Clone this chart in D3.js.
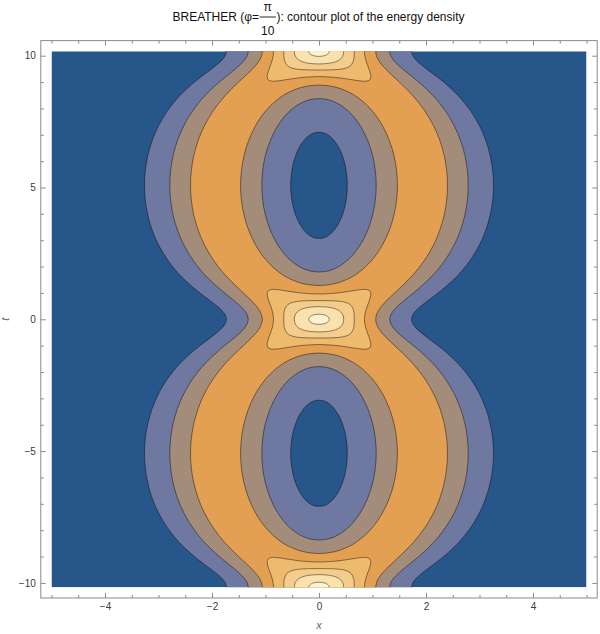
<!DOCTYPE html>
<html><head><meta charset="utf-8">
<script src="https://cdn.jsdelivr.net/npm/d3@7"></script>
<style>body{margin:0;background:#fff} svg{display:block}</style>
</head><body>
<svg id="chart" width="600" height="634"></svg>
<script>
// ---------------- data ----------------
const period = 10.166;               // t-period of the energy density (peaks at t = 0, ±period)
const xRange = [-5, 5];
const tRange = [-10.166, 10.166];
const contourLevels = [1, 2, 3, 4, 5, 6, 7];
const bandColors = ["#27568b", "#6e78a0", "#a38c7a", "#e3a053", "#edba6e", "#f4cd8c", "#f9e2ae", "#fdf3d0"];
const xTicks = [-4, -2, 0, 2, 4];
const tTicks = [-10, -5, 0, 5, 10];
const xMinorTicks = [-5,-4.5,-3.5,-3,-2.5,-1.5,-1,-0.5,0.5,1,1.5,2.5,3,3.5,4.5,5];
const tMinorTicks = [-9,-8,-7,-6,-4,-3,-2,-1,1,2,3,4,6,7,8,9];

// outer (x >= 0) branches of levels 1..3, given as [t, x] for 0 <= t <= period/2
const outerL1 = [[0,1.731],[0.169,1.754],[0.339,1.817],[0.508,1.909],[0.678,2.016],[0.847,2.128],[1.130,2.307],[1.412,2.467],[1.694,2.608],[1.977,2.729],[2.259,2.833],[2.542,2.923],[2.824,3.000],[3.106,3.065],[3.389,3.119],[3.671,3.164],[3.954,3.199],[4.236,3.227],[4.518,3.246],[4.801,3.258],[5.083,3.261]];
const outerL2 = [[0,1.323],[0.169,1.342],[0.339,1.395],[0.508,1.474],[0.678,1.569],[0.847,1.672],[1.130,1.843],[1.412,1.999],[1.694,2.137],[1.977,2.258],[2.259,2.361],[2.542,2.451],[2.824,2.527],[3.106,2.592],[3.389,2.646],[3.671,2.691],[3.954,2.727],[4.236,2.754],[4.518,2.773],[4.801,2.785],[5.083,2.788]];
const outerL3 = [[0,1.060],[0.169,1.074],[0.339,1.112],[0.508,1.172],[0.678,1.248],[0.847,1.334],[1.130,1.483],[1.412,1.628],[1.694,1.760],[1.977,1.876],[2.259,1.978],[2.542,2.066],[2.824,2.142],[3.106,2.206],[3.389,2.260],[3.671,2.304],[3.954,2.340],[4.236,2.367],[4.518,2.386],[4.801,2.398],[5.083,2.401]];

// rings around the low-energy ovals (centre t = period/2), given as [x, t]
const ovalL3 = [[0,1.283],[0.143,1.299],[0.300,1.356],[0.397,1.412],[0.564,1.553],[0.684,1.694],[0.862,1.977],[0.995,2.259],[1.101,2.542],[1.187,2.824],[1.258,3.106],[1.316,3.389],[1.364,3.671],[1.401,3.954],[1.430,4.236],[1.450,4.518],[1.462,4.801],[1.466,5.083]];
const ovalL2 = [[0,1.795],[0.173,1.836],[0.350,1.977],[0.544,2.259],[0.673,2.542],[0.771,2.824],[0.849,3.106],[0.912,3.389],[0.962,3.671],[1.002,3.954],[1.032,4.236],[1.052,4.518],[1.065,4.801],[1.069,5.083]];
const ovalL1 = [[0,3.070],[0.107,3.106],[0.201,3.219],[0.285,3.389],[0.375,3.671],[0.436,3.954],[0.479,4.236],[0.507,4.518],[0.524,4.801],[0.529,5.083]];

// closed contours around the peaks (centre t = 0), given as [x, t]
const peakL4 = [[0.850,0],[0.857,0.169],[0.876,0.339],[0.904,0.508],[0.935,0.678],[0.961,0.847],[0.969,0.960],[0.966,1.017],[0.951,1.073],[0.934,1.101],[0.891,1.130],[0.850,1.135],[0.798,1.130],[0.690,1.101],[0.603,1.073],[0.415,1.017],[0.292,0.988],[0,0.959]];
const peakL5 = [[0.659,0],[0.657,0.169],[0.646,0.339],[0.606,0.508],[0.553,0.593],[0.503,0.635],[0.448,0.664],[0.405,0.678],[0.338,0.692],[0.173,0.706],[0,0.710]];
const peakL6 = [[0.462,0],[0.445,0.169],[0.405,0.282],[0.369,0.339],[0.311,0.395],[0.266,0.424],[0.197,0.452],[0.140,0.466],[0,0.479]];
const peakL7 = [[0.192,0],[0.184,0.057],[0.158,0.113],[0.134,0.141],[0.095,0.169],[0,0.193]];

const titleBefore = "BREATHER (\u03C6=";
const titleNum = "\u03C0";
const titleDen = "10";
const titleAfter = "): contour plot of the energy density";

// ---------------- drawing ----------------
const frame = {left: 40.8, right: 597.2, top: 40.6, bottom: 598};
const padX = 0.02 * (xRange[1] - xRange[0]);
const padT = 0.02 * (tRange[1] - tRange[0]);
const xs = d3.scaleLinear().domain([xRange[0] - padX, xRange[1] + padX]).range([frame.left, frame.right]);
const ys = d3.scaleLinear().domain([tRange[0] - padT, tRange[1] + padT]).range([frame.bottom, frame.top]);
const half = period / 2;

const svg = d3.select("#chart");
svg.append("defs").append("clipPath").attr("id", "plotclip")
  .append("rect")
  .attr("x", xs(xRange[0])).attr("y", ys(tRange[1]))
  .attr("width", xs(xRange[1]) - xs(xRange[0]))
  .attr("height", ys(tRange[0]) - ys(tRange[1]));

const plot = svg.append("g").attr("clip-path", "url(#plotclip)");
const lineClosed = d3.line().x(d => xs(d[0])).y(d => ys(d[1])).curve(d3.curveCatmullRomClosed.alpha(0.5));
const strokeCol = "rgba(0,0,0,0.55)";
const strokeW = 0.8;

plot.append("rect")
  .attr("x", xs(xRange[0])).attr("y", ys(tRange[1]))
  .attr("width", xs(xRange[1]) - xs(xRange[0]))
  .attr("height", ys(tRange[0]) - ys(tRange[1]))
  .attr("fill", bandColors[0]);

function unfoldOuter(pts) {
  const one = pts.map(p => [p[0], p[1]]);
  for (let i = pts.length - 2; i >= 0; i--) one.push([period - pts[i][0], pts[i][1]]);
  const all = [];
  for (let k = -2; k <= 1; k++) {
    one.forEach((p, i) => { if (k > -2 && i === 0) return; all.push([p[0] + k * period, p[1]]); });
  }
  const kept = all.filter(p => p[0] >= -1.3 * period && p[0] <= 1.3 * period);
  const right = kept.map(p => [p[1], p[0]]);
  const left = kept.slice().reverse().map(p => [-p[1], p[0]]);
  return right.concat(left);
}

function loop(pts, tc) {
  const q1 = pts.map(p => [p[0], tc + p[1]]);
  const q2 = pts.slice(0, -1).reverse().map(p => [-p[0], tc + p[1]]);
  const q3 = pts.slice(1).map(p => [-p[0], tc - p[1]]);
  const q4 = pts.slice(1, -1).reverse().map(p => [p[0], tc - p[1]]);
  return q1.concat(q2, q3, q4);
}

function draw(poly, color) {
  plot.append("path").attr("d", lineClosed(poly))
    .attr("fill", color).attr("stroke", strokeCol).attr("stroke-width", strokeW)
    .attr("stroke-linejoin", "round");
}

draw(unfoldOuter(outerL1), bandColors[1]);
draw(unfoldOuter(outerL2), bandColors[2]);
draw(unfoldOuter(outerL3), bandColors[3]);

const ovalCentres = [-half, half];
const toOval = arr => arr.map(p => [p[0], half - p[1]]).reverse();
ovalCentres.forEach(tc => {
  draw(loop(toOval(ovalL3), tc), bandColors[2]);
  draw(loop(toOval(ovalL2), tc), bandColors[1]);
  draw(loop(toOval(ovalL1), tc), bandColors[0]);
});

const peakCentres = [-period, 0, period];
peakCentres.forEach(tc => {
  draw(loop(peakL4, tc), bandColors[4]);
  draw(loop(peakL5, tc), bandColors[5]);
  draw(loop(peakL6, tc), bandColors[6]);
  draw(loop(peakL7, tc), bandColors[7]);
});

// ---------------- frame & ticks ----------------
const frameCol = "#8a8a8a";
const labelCol = "#3a3a3a";
const fontFam = "'Liberation Sans', Arial, sans-serif";
const fmt = d => (d < 0 ? "\u2212" : "") + Math.abs(d);

function styleAxis(g) {
  g.select(".domain").remove();
  g.selectAll(".tick line").attr("stroke", frameCol).attr("stroke-width", 1);
  g.selectAll(".tick text").attr("fill", labelCol).attr("font-family", fontFam).attr("font-size", 10);
}
svg.append("g").attr("transform", `translate(0,${frame.bottom})`)
  .call(d3.axisBottom(xs).tickValues(xTicks).tickSizeInner(-5).tickSizeOuter(0).tickPadding(5).tickFormat(fmt)).call(styleAxis);
svg.append("g").attr("transform", `translate(0,${frame.bottom})`)
  .call(d3.axisBottom(xs).tickValues(xMinorTicks).tickSizeInner(-3).tickSizeOuter(0).tickFormat("")).call(styleAxis);
svg.append("g").attr("transform", `translate(0,${frame.top})`)
  .call(d3.axisTop(xs).tickValues(xTicks).tickSizeInner(-5).tickSizeOuter(0).tickFormat("")).call(styleAxis);
svg.append("g").attr("transform", `translate(0,${frame.top})`)
  .call(d3.axisTop(xs).tickValues(xMinorTicks).tickSizeInner(-3).tickSizeOuter(0).tickFormat("")).call(styleAxis);
svg.append("g").attr("transform", `translate(${frame.left},0)`)
  .call(d3.axisLeft(ys).tickValues(tTicks).tickSizeInner(-5).tickSizeOuter(0).tickPadding(5).tickFormat(fmt)).call(styleAxis);
svg.append("g").attr("transform", `translate(${frame.left},0)`)
  .call(d3.axisLeft(ys).tickValues(tMinorTicks).tickSizeInner(-3).tickSizeOuter(0).tickFormat("")).call(styleAxis);
svg.append("g").attr("transform", `translate(${frame.right},0)`)
  .call(d3.axisRight(ys).tickValues(tTicks).tickSizeInner(-5).tickSizeOuter(0).tickFormat("")).call(styleAxis);
svg.append("g").attr("transform", `translate(${frame.right},0)`)
  .call(d3.axisRight(ys).tickValues(tMinorTicks).tickSizeInner(-3).tickSizeOuter(0).tickFormat("")).call(styleAxis);

svg.append("rect").attr("x", frame.left).attr("y", frame.top)
  .attr("width", frame.right - frame.left).attr("height", frame.bottom - frame.top)
  .attr("fill", "none").attr("stroke", frameCol).attr("stroke-width", 1);

svg.append("text").attr("x", xs(0)).attr("y", 629).attr("text-anchor", "middle")
  .attr("font-family", fontFam).attr("font-size", 11).attr("font-style", "italic").attr("fill", "#666").text("x");
svg.append("text").attr("transform", `translate(9,${ys(0)}) rotate(-90)`).attr("text-anchor", "middle")
  .attr("font-family", fontFam).attr("font-size", 11).attr("font-style", "italic").attr("fill", "#666").text("t");

// title with stacked fraction
const tg = svg.append("g").attr("font-family", fontFam).attr("font-size", 12).attr("fill", "#111");
const t1 = tg.append("text").attr("y", 21).text(titleBefore);
const tn = tg.append("text").attr("y", 11).attr("text-anchor", "middle").text(titleNum);
const td = tg.append("text").attr("y", 35).attr("text-anchor", "middle").text(titleDen);
const t2 = tg.append("text").attr("y", 21).text(titleAfter);
const w1 = t1.node().getComputedTextLength();
const wf = Math.max(tn.node().getComputedTextLength(), td.node().getComputedTextLength()) + 4;
const w2 = t2.node().getComputedTextLength();
const x0 = 318.5 - (w1 + wf + w2) / 2;
t1.attr("x", x0);
tn.attr("x", x0 + w1 + wf / 2);
td.attr("x", x0 + w1 + wf / 2);
tg.append("line").attr("x1", x0 + w1 + 0.5).attr("x2", x0 + w1 + wf - 0.5)
  .attr("y1", 17).attr("y2", 17).attr("stroke", "#111").attr("stroke-width", 0.9);
t2.attr("x", x0 + w1 + wf);
</script>
</body></html>
